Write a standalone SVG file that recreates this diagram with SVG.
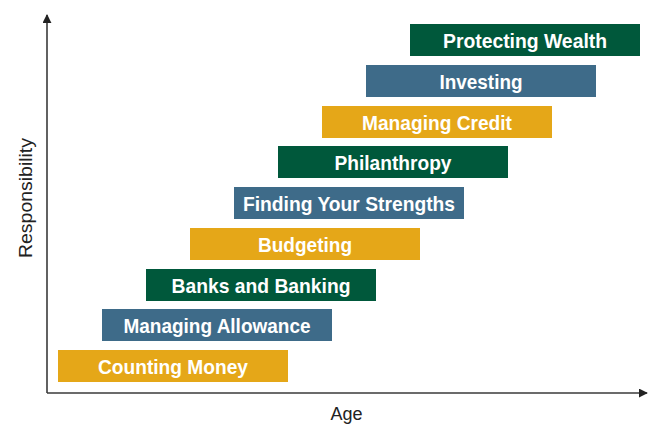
<svg xmlns="http://www.w3.org/2000/svg" width="649" height="427" viewBox="0 0 649 427">
<style>
.bar-g{fill:#00583B}
.bar-b{fill:#3E6B89}
.bar-y{fill:#E5A718}
.lbl{font-family:"Liberation Sans",Arial,sans-serif;font-weight:bold;font-size:20.5px;fill:#ffffff;text-anchor:middle}
.ax{font-family:"Liberation Sans",Arial,sans-serif;font-size:18px;fill:#222222;text-anchor:middle}
.axis{stroke:#3a3a3a;stroke-width:1.6;fill:none}
</style>
<defs>
<marker id="arr" viewBox="0 0 10 10" refX="9" refY="5" markerWidth="9" markerHeight="9" markerUnits="userSpaceOnUse" orient="auto">
<path d="M0,0 L10,5 L0,10 Z" fill="#222222"/>
</marker>
</defs>
<rect width="649" height="427" fill="#ffffff"/>
<g id="connectors">
<path class="axis" d="M47,393 L47,15" marker-end="url(#arr)"/>
<path class="axis" d="M47,393 L647,393" marker-end="url(#arr)"/>
</g>
<g id="counting-money"><rect class="bar-y" x="58" y="350" width="230" height="32"/><text class="lbl" x="173" y="373.5" textLength="150" lengthAdjust="spacingAndGlyphs">Counting Money</text></g>
<g id="managing-allowance"><rect class="bar-b" x="102" y="309" width="230" height="32"/><text class="lbl" x="217" y="332.5" textLength="187" lengthAdjust="spacingAndGlyphs">Managing Allowance</text></g>
<g id="banks-and-banking"><rect class="bar-g" x="146" y="269" width="230" height="32"/><text class="lbl" x="261" y="292.5" textLength="179" lengthAdjust="spacingAndGlyphs">Banks and Banking</text></g>
<g id="budgeting"><rect class="bar-y" x="190" y="228" width="230" height="32"/><text class="lbl" x="305" y="251.5" textLength="94" lengthAdjust="spacingAndGlyphs">Budgeting</text></g>
<g id="finding-your-strengths"><rect class="bar-b" x="234" y="187" width="230" height="32"/><text class="lbl" x="349" y="210.5" textLength="212" lengthAdjust="spacingAndGlyphs">Finding Your Strengths</text></g>
<g id="philanthropy"><rect class="bar-g" x="278" y="146" width="230" height="32"/><text class="lbl" x="393" y="169.5" textLength="117" lengthAdjust="spacingAndGlyphs">Philanthropy</text></g>
<g id="managing-credit"><rect class="bar-y" x="322" y="106" width="230" height="32"/><text class="lbl" x="437" y="129.5" textLength="150" lengthAdjust="spacingAndGlyphs">Managing Credit</text></g>
<g id="investing"><rect class="bar-b" x="366" y="65" width="230" height="32"/><text class="lbl" x="481" y="88.5" textLength="83" lengthAdjust="spacingAndGlyphs">Investing</text></g>
<g id="protecting-wealth"><rect class="bar-g" x="410" y="24" width="230" height="32"/><text class="lbl" x="525" y="47.5" textLength="164" lengthAdjust="spacingAndGlyphs">Protecting Wealth</text></g>
<g id="axis-labels">
<text class="ax" x="346.5" y="420">Age</text>
<text class="ax" style="font-size:19px" transform="translate(32,198) rotate(-90)" x="0" y="0" textLength="120" lengthAdjust="spacingAndGlyphs">Responsibility</text>
</g>
</svg>
